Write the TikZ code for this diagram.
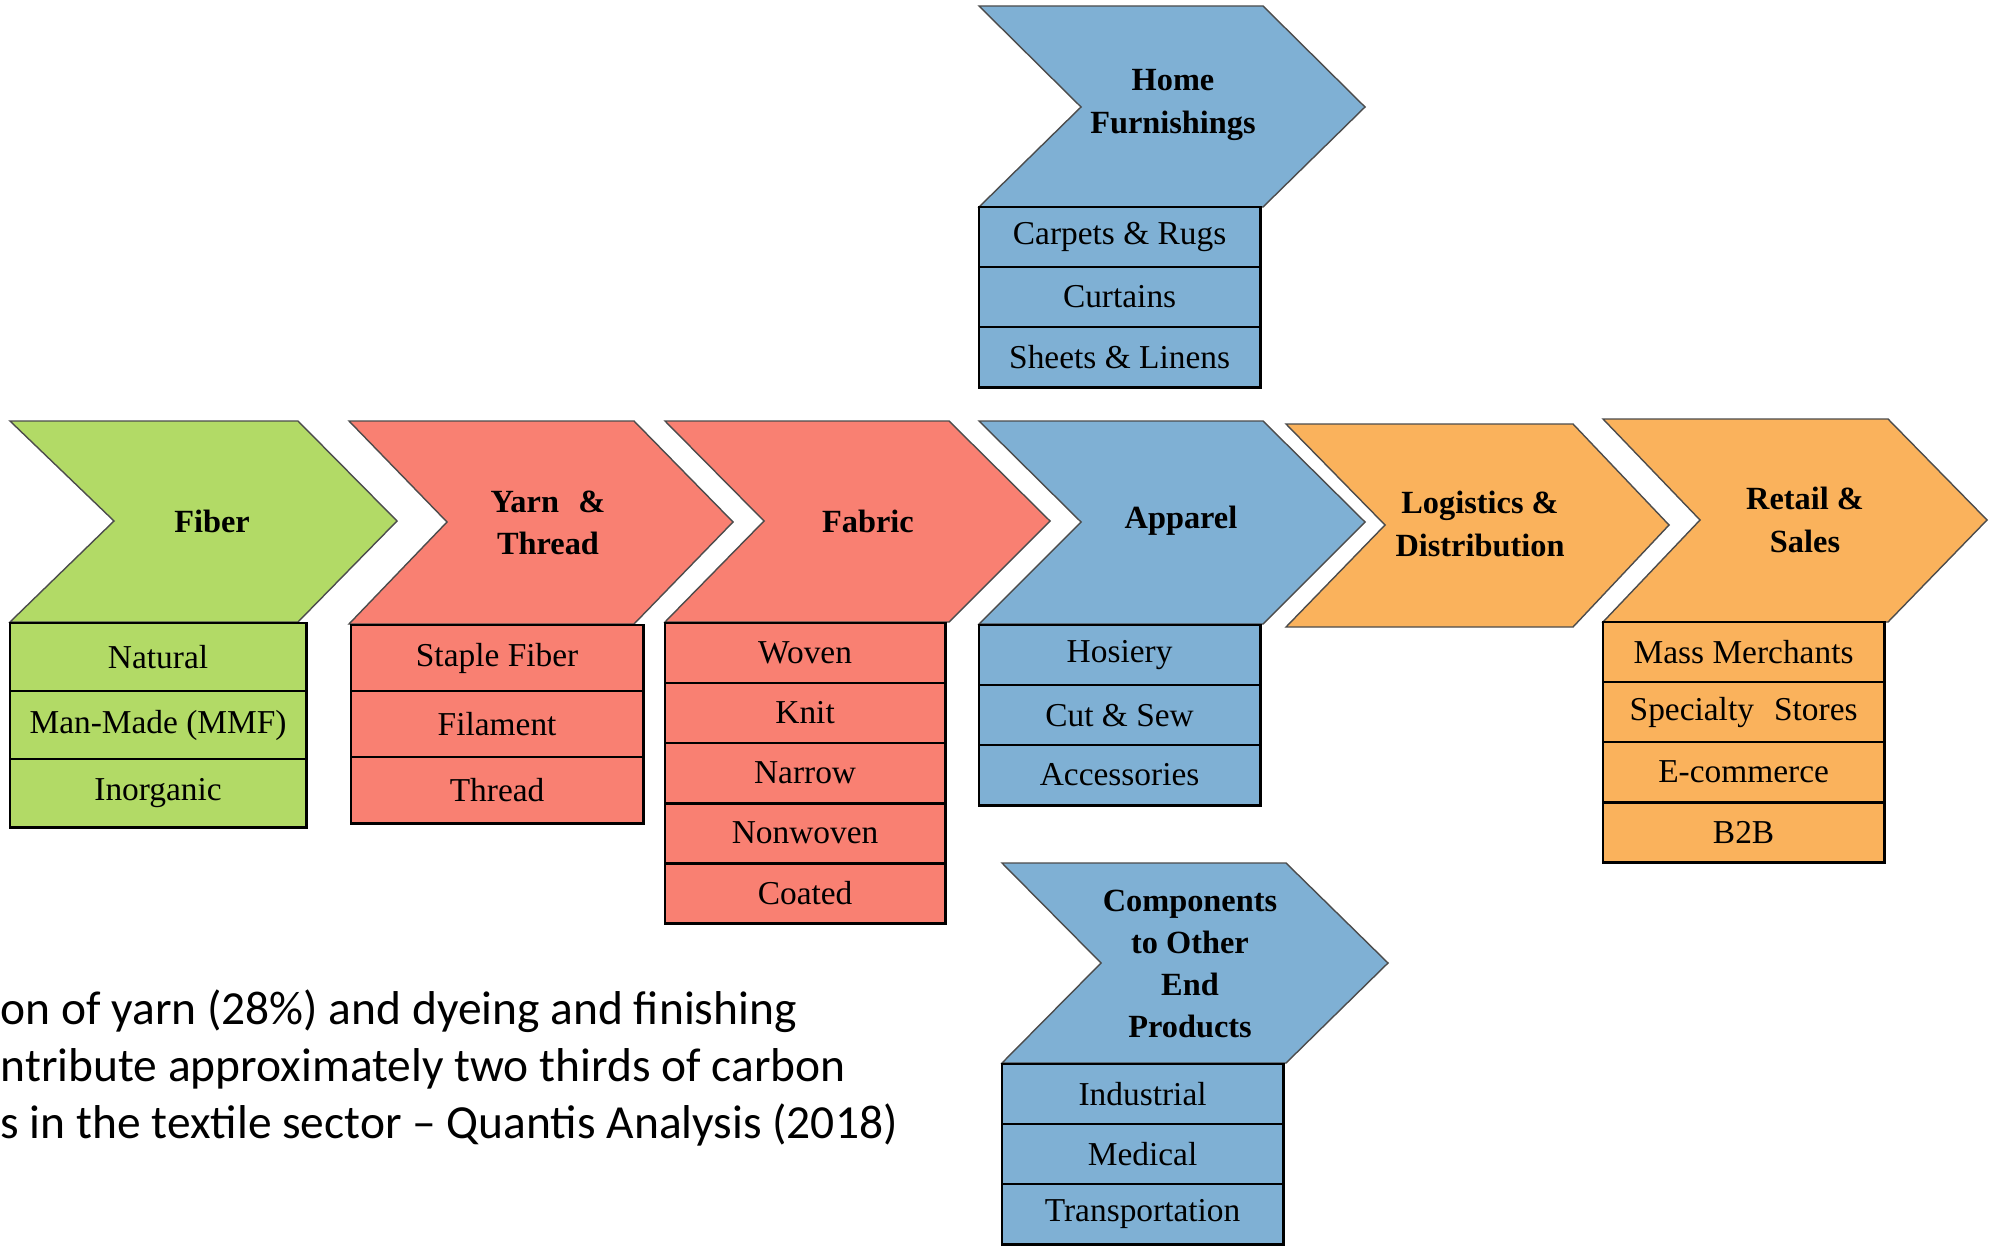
\documentclass[tikz,border=0pt]{standalone}
\usepackage{fontspec}
\setmainfont{Liberation Serif}
\newfontfamily\notefont{Carlito}
\usetikzlibrary{positioning}

\definecolor{fibergreen}{RGB}{178,218,102}
\definecolor{yarnred}{RGB}{249,128,114}
\definecolor{endblue}{RGB}{127,176,212}
\definecolor{salesorange}{RGB}{250,178,92}

\begin{document}
\begin{tikzpicture}[
    x=0.01cm, y=-0.01cm,
    chev/.style={draw=black!70, line width=0.4pt, line join=miter},
    title/.style={align=center, inner sep=0pt, font=\fontsize{9.2}{12}\selectfont\bfseries},
    item/.style={draw=black, line width=0.8pt, inner sep=0pt, outer sep=0pt,
        minimum width=2.81cm, minimum height=0.6cm, font=\fontsize{9.5}{11}\selectfont}
]
\useasboundingbox (0,0) rectangle (1989,1246);

% main chain
\draw[chev, fill=fibergreen] (10,421) -- (298,421) -- (397,521) -- (298,622) -- (10,622) -- (114,521) -- cycle;
\node[title] (fiber) at (212,521) {Fiber};
\draw[chev, fill=yarnred] (349,421) -- (634,421) -- (733,522) -- (634,624) -- (349,624) -- (447,522) -- cycle;
\node[title] (yarn) at (548,523) {Yarn\hspace{0.6em}\&\\Thread};
\draw[chev, fill=yarnred] (665,421) -- (949,421) -- (1050,521) -- (949,622) -- (665,622) -- (764,521) -- cycle;
\node[title] (fabric) at (868,521) {Fabric};
\draw[chev, fill=endblue] (979,421) -- (1263,421) -- (1365,522) -- (1263,624) -- (979,624) -- (1081,522) -- cycle;
\node[title] (apparel) at (1181,521) {Apparel};
\draw[chev, fill=salesorange] (1286,424) -- (1573,424) -- (1669,525) -- (1573,627) -- (1286,627) -- (1385,525) -- cycle;
\node[title] (logistics) at (1480,524) {Logistics \&\\Distribution};
\draw[chev, fill=salesorange] (1603,419) -- (1888,419) -- (1987,520) -- (1888,622) -- (1603,622) -- (1700,520) -- cycle;
\node[title] (retail) at (1805,520) {Retail \&\\Sales};

% branches
\draw[chev, fill=endblue] (979,6) -- (1263,6) -- (1365,107) -- (1263,207) -- (979,207) -- (1081,107) -- cycle;
\node[title] (home) at (1173,105) {Home\\Furnishings};
\draw[chev, fill=endblue] (1002,863) -- (1286,863) -- (1388,963) -- (1286,1063) -- (1002,1063) -- (1101,963) -- cycle;
\node[title] (components) at (1190,964) {Components\\to Other\\End\\Products};

% fiber
\node[item, fill=fibergreen, minimum width=2.96cm, minimum height=0.68cm, anchor=north west] (natural) at (10,623) {Natural};
\node[item, fill=fibergreen, minimum width=2.96cm, minimum height=0.68cm, below=0pt of natural] (mmf) {Man-Made (MMF)};
\node[item, fill=fibergreen, minimum width=2.96cm, minimum height=0.68cm, below=0pt of mmf] (inorganic) {Inorganic};

% yarn
\node[item, fill=yarnred, minimum width=2.92cm, minimum height=0.66cm, anchor=north west] (staple) at (351,625) {Staple Fiber};
\node[item, fill=yarnred, minimum width=2.92cm, minimum height=0.66cm, below=0pt of staple] (filament) {Filament};
\node[item, fill=yarnred, minimum width=2.92cm, minimum height=0.66cm, below=0pt of filament] (thread) {Thread};

% fabric
\node[item, fill=yarnred, minimum width=2.80cm, anchor=north west] (woven) at (665,623) {Woven};
\node[item, fill=yarnred, minimum width=2.80cm, below=0pt of woven] (knit) {Knit};
\node[item, fill=yarnred, minimum width=2.80cm, below=0pt of knit] (narrow) {Narrow};
\node[item, fill=yarnred, minimum width=2.80cm, below=0pt of narrow] (nonwoven) {Nonwoven};
\node[item, fill=yarnred, minimum width=2.80cm, below=0pt of nonwoven] (coated) {Coated};

% apparel
\node[item, fill=endblue, anchor=north west] (hosiery) at (979,625) {Hosiery};
\node[item, fill=endblue, below=0pt of hosiery] (cutsew) {Cut \& Sew};
\node[item, fill=endblue, below=0pt of cutsew] (accessories) {Accessories};

% retail
\node[item, fill=salesorange, anchor=north west] (mass) at (1603,622) {Mass Merchants};
\node[item, fill=salesorange, below=0pt of mass] (specialty) {Specialty\hspace{0.6em}Stores};
\node[item, fill=salesorange, below=0pt of specialty] (ecommerce) {E-commerce};
\node[item, fill=salesorange, below=0pt of ecommerce] (btob) {B2B};

% home furnishings
\node[item, fill=endblue, anchor=north west] (carpets) at (979,207) {Carpets \& Rugs};
\node[item, fill=endblue, below=0pt of carpets] (curtains) {Curtains};
\node[item, fill=endblue, below=0pt of curtains] (sheets) {Sheets \& Linens};

% components
\node[item, fill=endblue, anchor=north west] (industrial) at (1002,1064) {Industrial};
\node[item, fill=endblue, below=0pt of industrial] (medical) {Medical};
\node[item, fill=endblue, below=0pt of medical] (transport) {Transportation};

% note (base = last line)
\node[anchor=base west, align=left, inner sep=0pt, font=\notefont\fontsize{13.5}{16.2}\selectfont] (note) at (0,1138)
    {on of yarn (28\%) and dyeing and finishing\\ntribute approximately two thirds of carbon\\s in the textile sector \textendash{} Quantis Analysis (2018)};
\end{tikzpicture}
\end{document}
